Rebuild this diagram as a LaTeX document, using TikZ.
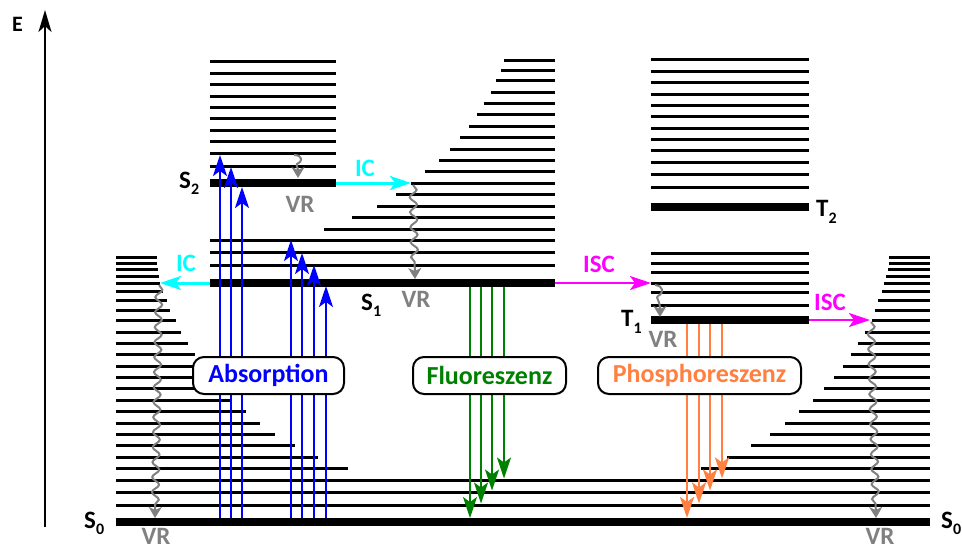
\documentclass[tikz,border=0pt]{standalone}
\usepackage{fontspec}
\setmainfont{Carlito}
\usetikzlibrary{arrows.meta,decorations.pathmorphing}
\definecolor{cblue}{RGB}{0,0,255}
\definecolor{ccyan}{RGB}{0,255,255}
\definecolor{cmag}{RGB}{255,0,255}
\definecolor{cgreen}{RGB}{0,128,0}
\definecolor{corange}{RGB}{255,128,64}
\definecolor{cgray}{RGB}{128,128,128}
\newcommand{\lvlsub}[1]{\raisebox{-6.5pt}{\fontsize{16}{16}\selectfont #1}}
\tikzset{
  lvl/.style={line width=3pt},
  ground/.style={line width=8pt},
  bighead/.style={-{Stealth[length=21pt,width=14pt,inset=5pt]}},
  absarrow/.style={bighead, cblue, line width=2.2pt},
  fluarrow/.style={bighead, cgreen, line width=2pt},
  phoarrow/.style={bighead, corange, line width=2.8pt},
  icarrow/.style={bighead, ccyan, line width=3pt},
  iscarrow/.style={bighead, cmag, line width=2.5pt},
  vrwave/.style={cgray, line width=2pt, -{Stealth[length=11pt,width=13pt,inset=3pt]},
     decorate, decoration={snake, amplitude=3.5pt, segment length=15pt, post length=12pt}},
  vrshort/.style={cgray, line width=2pt, -{Stealth[length=11pt,width=13pt,inset=3pt]}},
  lab/.style={font=\fontsize{25}{25}\selectfont\bfseries, inner sep=0pt},
  statelab/.style={lab, anchor=base west},
  procbox/.style={draw=black, line width=2pt, fill=white, rounded corners=11pt,
     minimum height=37pt, inner sep=0pt, font=\fontsize{26}{26}\selectfont\bfseries}
}
\begin{document}
\begin{tikzpicture}[x=1pt,y=-1pt]
\useasboundingbox (0,0) rectangle (962,550);
% energy axis
\coordinate (axb) at (45,527);
\coordinate (axt) at (45,10);
\draw[line width=2.5pt, -{Stealth[length=22pt,width=13pt,inset=6pt]}] (axb) -- (axt);
\node[lab, font=\fontsize{22}{22}\selectfont\bfseries, anchor=base west] (E) at (12,31.5) {E};

% ---------- S0 manifold ----------
\foreach \y in {480,492,505} \draw[lvl] (116,\y) -- (930,\y);
\foreach \y/\r in {257/157,263/157,269/158,276/159,283/160,291/163,300/167,310/170,320/176,332/181,343/188,354/195,366/204,377/213,388/222,400/232,411/246,423/260,434/275,445/295,457/318,468/348}
  \draw[lvl] (116,\y) -- (\r,\y);
\foreach \y/\l in {257/889,263/889,269/888,276/886,283/884,291/882,300/878,310/875,320/872,332/865,343/858,354/851,366/843,377/834,388/824,400/813,411/799,423/785,434/770,445/751,457/727,468/701}
  \draw[lvl] (\l,\y) -- (930,\y);
\draw[ground] (116,522) -- (930,522);

% ---------- S1 manifold ----------
\foreach \y in {240,252,265} \draw[lvl] (210,\y) -- (555,\y);
\foreach \y/\l in {60/504,70/501,80/496,92/491,103/484,114/477,126/469,137/460,149/450,160/439,171/425,183/411,194/396,206/377,217/352,229/324}
  \draw[lvl] (\l,\y) -- (555,\y);
\draw[ground] (210,283) -- (555,283);

% ---------- S2 ----------
\foreach \y in {61,73,84,96,107,118,130,141,153,166} \draw[lvl] (210,\y) -- (336,\y);
\draw[ground] (210,183) -- (336,183);

% ---------- T2 ----------
\foreach \y in {59,71,82,94,105,116,128,139,150,162,174,187} \draw[lvl] (651,\y) -- (809,\y);
\draw[ground] (651,207) -- (809,207);

% ---------- T1 ----------
\foreach \y in {253,263,272,283,292,305} \draw[lvl] (651,\y) -- (809,\y);
\draw[ground] (651,320) -- (809,320);

% ---------- state labels ----------
\node[statelab] (lS2) at (179,188) {S\lvlsub{2}};
\node[statelab] (lS1) at (361,310) {S\lvlsub{1}};
\node[statelab] (lS0a) at (84,528) {S\lvlsub{0}};
\node[statelab] (lS0b) at (941,528) {S\lvlsub{0}};
\node[statelab] (lT2) at (816,216.5) {T\lvlsub{2}};
\node[statelab] (lT1) at (621,326.5) {T\lvlsub{1}};

% ---------- absorption ----------
\foreach \n/\x/\t in {a1/220/155,a2/231/167,a3/242/187,a4/291/240,a5/302/253,a6/314/265,a7/326/286}{
  \coordinate (\n b) at (\x,518);
  \coordinate (\n t) at (\x,\t);
  \draw[absarrow] (\n b) -- (\n t);
}

% ---------- fluorescence ----------
\foreach \n/\x/\t in {f1/470/518,f2/481/503.5,f3/492/490.5,f4/504/478.5}{
  \coordinate (\n s) at (\x,287);
  \coordinate (\n e) at (\x,\t);
  \draw[fluarrow] (\n s) -- (\n e);
}

% ---------- phosphorescence ----------
\foreach \n/\x/\t in {p1/687/518,p2/699/503.5,p3/710/490.5,p4/722/478.5}{
  \coordinate (\n s) at (\x,324);
  \coordinate (\n e) at (\x,\t);
  \draw[phoarrow] (\n s) -- (\n e);
}

% ---------- internal conversion ----------
\coordinate (ic1s) at (336,183);
\coordinate (ic1e) at (411,183);
\draw[icarrow] (ic1s) -- (ic1e);
\node[lab, text=ccyan] (IC1) at (365,168) {IC};
\coordinate (ic2s) at (210,283);
\coordinate (ic2e) at (160,283);
\draw[icarrow] (ic2s) -- (ic2e);
\node[lab, text=ccyan] (IC2) at (186,263) {IC};

% ---------- intersystem crossing ----------
\coordinate (isc1s) at (555,283);
\coordinate (isc1e) at (651,283);
\draw[iscarrow] (isc1s) -- (isc1e);
\node[lab, text=cmag] (ISC1) at (599,264) {ISC};
\coordinate (isc2s) at (809,320);
\coordinate (isc2e) at (870,320);
\draw[iscarrow] (isc2s) -- (isc2e);
\node[lab, text=cmag] (ISC2) at (830,302) {ISC};

% ---------- vibrational relaxation ----------
\coordinate (vr1s) at (413,185);
\coordinate (vr1e) at (415,279);
\draw[vrwave] (vr1s) -- (vr1e);
\coordinate (vr2s) at (159,285);
\coordinate (vr2e) at (155,518);
\draw[vrwave] (vr2s) -- (vr2e);
\coordinate (vr3s) at (871,322);
\coordinate (vr3e) at (876,518);
\draw[vrwave] (vr3s) -- (vr3e);
\coordinate (vr4s) at (294,155);
\coordinate (vr4e) at (298,178);
\draw[vrshort] (vr4s) .. controls (303,155) and (303,162) .. (297,164) .. controls (295,165) and (298,166) .. (vr4e);
\coordinate (vr5s) at (655,285);
\coordinate (vr5e) at (660,317);
\draw[vrshort] (vr5s) .. controls (664,286) and (664,293) .. (658,296) .. controls (655,298) and (660,299) .. (vr5e);

\node[lab, text=cgray] (VR1) at (300,204) {VR};
\node[lab, text=cgray] (VR2) at (416,299) {VR};
\node[lab, text=cgray] (VR3) at (663,339) {VR};
\node[lab, text=cgray] (VR4) at (156,536.5) {VR};
\node[lab, text=cgray] (VR5) at (880,536.5) {VR};

% ---------- process boxes ----------
\node[procbox, text=cblue, minimum width=151pt] (abs) at (268.5,375.5) {Absorption};
\node[procbox, text=cgreen, minimum width=153pt] (flu) at (489.5,375.5) {Fluoreszenz};
\node[procbox, text=corange, minimum width=203pt] (pho) at (699.5,375.5) {Phosphoreszenz};
\end{tikzpicture}
\end{document}
